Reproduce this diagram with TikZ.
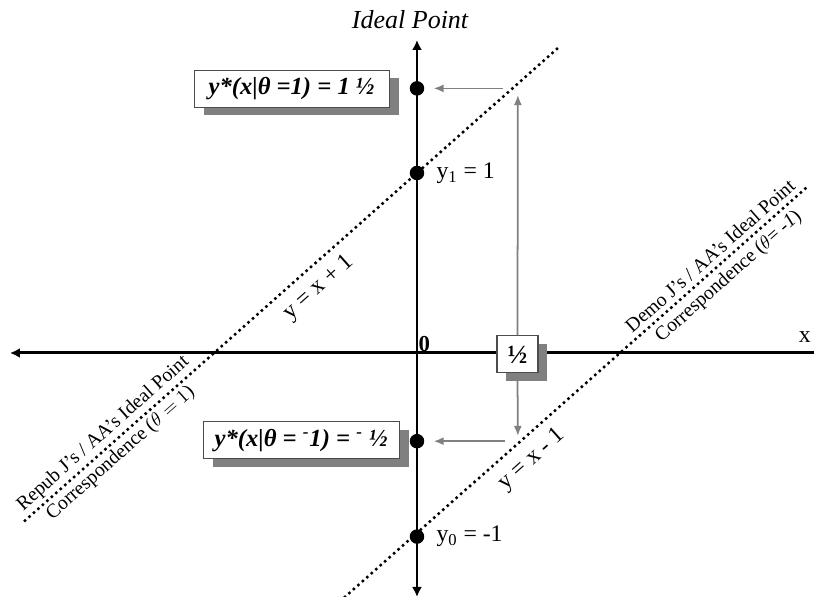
\documentclass[tikz,border=0pt]{standalone}
\usepackage{fontspec}
\setmainfont{Liberation Serif}
\usetikzlibrary{arrows.meta,positioning,shadows}

\tikzset{
  axis/.style={line width=1.7pt},
  dotline/.style={line width=2pt, line cap=round, dash pattern=on 0pt off 3.4pt},
  garrow/.style={draw=black!50, line width=1pt, -{Latex[length=2mm,width=1.6mm]}},
  dot/.style={circle, fill=black, inner sep=0pt, minimum size=0.29cm},
  eqbox/.style={draw=black!70, fill=white, line width=0.6pt, inner sep=2pt,
    font=\bfseries\itshape\fontsize{14}{15}\selectfont,
    drop shadow={shadow xshift=0.19cm, shadow yshift=-0.16cm, fill=black!50, opacity=1}},
  lbl/.style={font=\fontsize{13.5}{15}\selectfont, inner sep=1pt},
  corr/.style={align=center, rotate=41.6, inner sep=0pt, font=\fontsize{11.2}{15}\selectfont}
}

\begin{document}
\begin{tikzpicture}[x=4.06cm, y=3.6cm]
    \useasboundingbox (-2.0542,-1.3556) rectangle (1.9557,1.9611);

    % Axes
    \coordinate (xl) at (-2.005,0);
    \coordinate (xr) at (1.9557,0);
    \coordinate (yb) at (0,-1.3556);
    \coordinate (yt) at (0,1.739);
    \draw[axis, {Latex[length=2mm,width=2mm]}-] (xl) -- (xr);
    \draw[axis, {Latex[length=2mm,width=2mm]}-{Latex[length=2mm,width=2mm]}] (yb) -- (yt);
    \node[font=\itshape\fontsize{14.8}{16}\selectfont] (ideal) at (-0.034,1.85) {Ideal Point};
    \node[font=\bfseries\fontsize{13}{14}\selectfont, inner sep=0pt] (zero) at (0.036,0.048) {0};
    \node[lbl] (xlab) at (1.911,0.089) {x};

    % Correspondence lines
    \coordinate (r1) at (-1.931,-0.931);
    \coordinate (r2) at (0.704,1.704);
    \coordinate (d1) at (-0.355,-1.355);
    \coordinate (d2) at (1.926,0.926);
    \draw[dotline] (r1) -- (r2);
    \draw[dotline] (d1) -- (d2);
    \node[lbl, rotate=41.6] (eqr) at (-0.483,0.361) {y = x + 1};
    \node[lbl, rotate=41.6] (eqd) at (0.567,-0.594) {y = x - 1};
    \node[corr] (repub) at (-1.502,-0.503) {Repub J's / AA's Ideal Point\\Correspondence ($\theta = 1$)};
    \node[corr] (demo) at (1.493,0.478) {Demo J's / AA's Ideal Point\\Correspondence ($\theta$= \textit{-1})};

    % Points on the y axis
    \node[dot] (dHi) at (0,1.47) {};
    \node[dot] (dOne) at (0,1) {};
    \node[dot] (dLo) at (0,-0.49) {};
    \node[dot] (dZero) at (0,-1.02) {};
    \node[lbl, anchor=west] (yone) at (0.086,1) {y\textsubscript{1} = 1};
    \node[lbl, anchor=west] (yzero) at (0.086,-1.02) {y\textsubscript{0} = -1};

    % Best responses
    \node[eqbox, minimum width=3.9cm, minimum height=0.74cm] (bHi) at (-0.618,1.469) {y*(x|θ =1) = 1 ½};
    \node[eqbox, minimum width=3.92cm, minimum height=0.74cm] (bLo) at (-0.571,-0.486) {y*(x|θ = \textsuperscript{-}1) = \textsuperscript{-} ½};
    \node[eqbox, font=\bfseries\fontsize{15}{16}\selectfont, minimum width=0.82cm, minimum height=0.74cm] (half) at (0.495,-0.008) {½};

    % Shifts of the ideal point
    \coordinate (aHi) at (0.424,1.47);
    \coordinate (aLo) at (0.433,-0.49);
    \coordinate (vTop) at (0.497,1.433);
    \coordinate (vBot) at (0.497,-0.461);
    \draw[garrow, shorten >=0.18cm] (aHi) -- (dHi);
    \draw[garrow, shorten >=0.18cm] (aLo) -- (dLo);
    \draw[garrow] (half.north) -- (vTop);
    \draw[garrow, shorten <=0.14cm] (half.south) -- (vBot);
\end{tikzpicture}
\end{document}
